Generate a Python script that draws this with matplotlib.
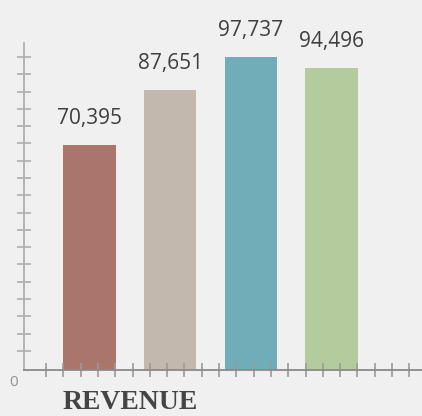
import numpy as np
import matplotlib
matplotlib.use("Agg")
import matplotlib.pyplot as plt

categories = ["A", "B", "C", "D"]
revenue = [70395, 87651, 97737, 94496]
bar_colors = ["#aa756b", "#c2b8ad", "#71adb8", "#b3cb9d"]
title = "REVENUE"

bg = "#f0f0f0"
fig = plt.figure(figsize=(4.22, 4.16), dpi=100, facecolor=bg)
ax = fig.add_axes([24 / 422, 46 / 416, 398 / 422, 327 / 416], facecolor=bg)

x = np.arange(len(categories))
bars = ax.bar(x, revenue, width=0.65, color=bar_colors)

# value labels above bars
for xi, v in zip(x, revenue):
    ax.annotate(f"{v:,}", (xi, v), xytext=(0, 15), textcoords="offset points",
                ha="center", va="baseline", fontsize=15,
                family="Open Sans", color="#3f3f3f")

ax.set_xlim(-0.814, 4.124)
ax.set_ylim(0, 102200)

# decorative ticks
step_x = 17.3 / 80.6
ax.set_xticks(np.arange(-0.54, 4.0, step_x))
ax.set_yticks(np.arange(6000, 100000, 5400))
ax.tick_params(axis="x", direction="inout", length=10, width=1.2,
               color="#9a9a9a", labelbottom=False)
ax.tick_params(axis="y", direction="inout", length=10, width=1.2,
               color="#b0b0b0", labelleft=False)

for s in ["top", "right"]:
    ax.spines[s].set_visible(False)
ax.spines["bottom"].set_color("#8a8a8a")
ax.spines["bottom"].set_linewidth(1.3)
ax.spines["left"].set_color("#b0b0b0")
ax.spines["left"].set_linewidth(1.3)

fig.text(14 / 422, 1 - 382 / 416, "0", ha="center", va="center",
         fontsize=11, color="#909090", family="Open Sans")
fig.text(63 / 422, 1 / 416, title, ha="left", va="bottom",
         fontsize=20, fontweight="bold", family="Liberation Serif",
         color="#444444")

fig.savefig("out.png", dpi=100, facecolor=bg)
